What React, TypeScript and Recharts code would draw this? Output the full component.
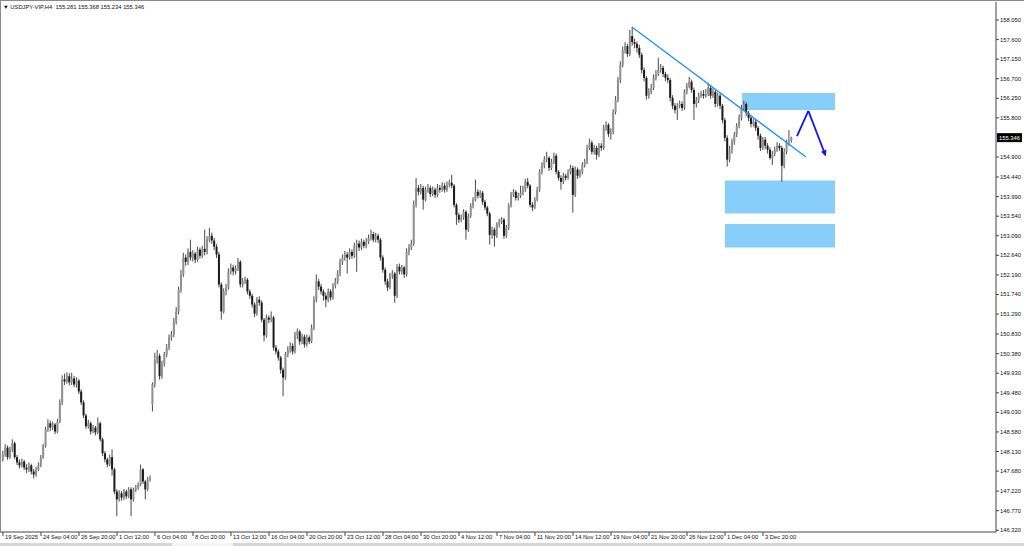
import React from 'react';
import { ComposedChart, Bar, XAxis, YAxis, ReferenceLine, ReferenceArea } from 'recharts';

// USDJPY-VIP, H4 — one value per candle, oldest first (bar 0 = 19 Sep 12:00)
const closes = [
  148.06, 148.22, 148.00, 148.18, 148.32, 148.00, 147.88, 147.81, 147.90, 147.76,
  147.72, 147.81, 147.67, 147.60, 147.72, 147.81, 148.00, 148.27, 148.64, 148.78,
  148.68, 148.75, 148.59, 148.82, 149.26, 149.79, 149.74, 149.86, 149.72, 149.81,
  149.67, 149.76, 149.51, 149.26, 148.96, 148.71, 148.78, 148.59, 148.68, 148.57,
  148.78, 148.41, 148.09, 147.95, 147.83, 148.00, 147.72, 147.21, 147.03, 147.17,
  147.07, 147.21, 147.10, 147.26, 147.03, 147.26, 147.30, 147.37, 147.72, 147.44,
  147.26, 147.49, 147.51,
  149.67, 150.24, 150.33, 149.86, 150.15, 150.36, 150.52, 150.75, 150.82, 151.12,
  151.35, 151.85, 152.20, 152.59, 152.49, 152.72, 152.59, 152.68, 152.54, 152.77,
  152.63, 152.79, 152.72, 153.00, 153.09, 152.98, 152.84, 152.66, 151.97, 151.35,
  151.81, 151.90, 152.27, 152.36, 152.27, 152.34, 152.49, 151.97, 152.04, 152.08,
  151.81, 151.71, 151.51, 151.30, 151.62, 151.55, 151.16, 150.80, 151.21, 151.16,
  151.21, 150.52, 150.43, 150.29, 150.01, 149.83, 150.36, 150.47, 150.56, 150.43,
  150.80, 150.89, 150.66, 150.77, 150.59, 150.75, 150.66, 150.98, 151.62, 152.04,
  151.92,
  151.81, 151.71, 151.62, 151.81, 151.67, 151.94, 152.04, 152.22, 152.49, 152.59,
  152.66, 152.59, 152.72, 152.63, 152.86, 152.91, 152.82, 152.95, 152.86, 152.95,
  153.04, 153.13, 153.00, 153.09, 153.00, 152.59, 152.31, 152.04, 151.90, 152.18,
  152.22, 151.71, 152.38, 152.27, 152.36, 152.20, 152.72, 152.82, 152.91, 153.80,
  154.19, 154.10, 154.19, 153.92, 154.15, 154.19, 154.05, 154.15, 154.03, 154.19,
  154.15, 154.24, 154.15, 154.26, 154.31, 154.24, 153.80, 153.57, 153.46,
  153.51, 153.64, 153.23, 153.55, 153.78, 153.92, 154.10, 154.01, 154.08, 153.87,
  153.74, 153.60, 153.11, 153.23, 153.09, 153.34, 153.41, 153.46, 153.09, 153.27,
  153.78, 154.03, 154.10, 153.96, 154.01, 154.08, 154.15, 154.33, 154.24, 153.80,
  153.74, 153.92, 154.15, 154.56, 154.70, 154.84, 154.88, 154.65, 154.79, 154.93,
  154.56, 154.42, 154.33, 154.47, 154.42, 154.56, 154.65, 154.03, 154.61, 154.47,
  154.56, 154.72, 154.79, 155.11, 155.23, 155.02, 155.11, 154.95, 155.16, 155.11,
  155.57, 155.64, 155.43, 155.48, 155.94, 156.21, 156.67, 157.02,
  157.36, 157.45, 157.27, 157.68, 157.54, 157.50, 157.41, 157.25, 156.90, 156.72,
  156.31, 156.40, 156.49, 156.72, 156.81, 156.90, 156.95, 156.81, 156.72, 156.67,
  156.26, 156.08, 155.98, 156.08, 156.12, 156.03, 156.40, 156.53, 156.63, 156.44,
  156.12, 156.21, 156.31, 156.35, 156.31, 156.35, 156.49, 156.31, 156.40, 156.12,
  156.31, 156.08, 155.75, 155.34, 154.84, 155.07, 155.25, 155.41, 155.61, 155.80,
  156.03, 156.12, 155.91, 155.80, 155.66, 155.71, 155.57, 155.39, 155.11, 155.30,
  155.16, 155.07, 154.88, 154.97, 155.07, 155.16, 155.11, 154.70, 155.02, 155.23,
  155.28, 155.346,
];

const highs = [
  148.15, 148.30, 148.27, 148.24, 148.41, 148.36, 148.05, 147.95, 147.97, 147.94,
  147.84, 147.88, 147.85, 147.73, 147.78, 147.88, 148.05, 148.31, 148.70, 148.87,
  148.84, 148.82, 148.79, 148.88, 149.33, 149.88, 149.92, 149.95, 149.93, 149.94,
  149.87, 149.84, 149.80, 149.56, 149.31, 149.00, 148.86, 148.82, 148.74, 148.72,
  148.91, 148.82, 148.45, 148.14, 147.99, 148.06, 148.18, 147.76, 147.26, 147.24,
  147.22, 147.27, 147.25, 147.31, 147.31, 147.30, 147.36, 147.42, 147.83, 147.75,
  147.48, 147.55, 147.58,
  149.72, 150.40, 150.47, 150.38, 150.22, 150.42, 150.60, 150.82, 150.90, 151.20,
  151.45, 151.92, 152.31, 152.70, 152.66, 152.80, 153.00, 152.76, 152.72, 152.84,
  152.82, 152.86, 153.23, 153.08, 153.27, 153.16, 153.04, 152.90, 152.72, 152.02,
  151.88, 151.98, 152.34, 152.45, 152.42, 152.41, 152.58, 152.53, 152.12, 152.15,
  152.12, 151.86, 151.76, 151.56, 151.68, 151.70, 151.60, 151.20, 151.28, 151.26,
  151.35, 151.25, 150.58, 150.48, 150.33, 150.06, 150.42, 150.55, 150.64, 150.62,
  150.88, 150.96, 150.93, 150.84, 150.82, 150.82, 150.80, 151.05, 151.70, 152.20,
  152.10,
  151.98, 151.86, 151.78, 151.88, 151.86, 152.00, 152.12, 152.30, 152.56, 152.66,
  152.74, 152.72, 152.80, 152.78, 152.93, 153.00, 152.98, 153.02, 153.00, 153.04,
  153.12, 153.23, 153.18, 153.16, 153.14, 153.04, 152.64, 152.36, 152.10, 152.24,
  152.30, 152.26, 152.44, 152.45, 152.42, 152.40, 152.80, 152.90, 153.00, 153.90,
  154.42, 154.26, 154.28, 154.24, 154.22, 154.28, 154.24, 154.22, 154.20, 154.28,
  154.26, 154.32, 154.30, 154.34, 154.38, 154.49, 154.28, 153.84, 153.62,
  153.58, 153.70, 153.68, 153.60, 153.84, 153.98, 154.38, 154.16, 154.14, 154.12,
  153.92, 153.78, 153.64, 153.30, 153.28, 153.40, 153.48, 153.52, 153.50, 153.34,
  153.84, 154.10, 154.16, 154.14, 154.08, 154.24, 154.24, 154.40, 154.42, 154.28,
  153.86, 153.98, 154.22, 154.62, 154.78, 154.92, 155.02, 154.92, 154.86, 155.00,
  154.98, 154.60, 154.48, 154.54, 154.52, 154.62, 154.72, 154.70, 154.68, 154.66,
  154.62, 154.78, 154.86, 155.18, 155.32, 155.28, 155.18, 155.16, 155.22, 155.22,
  155.64, 155.72, 155.68, 155.56, 156.00, 156.30, 156.74, 157.10,
  157.44, 157.54, 157.50, 157.82, 157.89, 157.62, 157.56, 157.48, 157.30, 156.96,
  156.76, 156.48, 156.58, 156.80, 156.90, 157.18, 157.04, 157.00, 156.86, 156.80,
  156.72, 156.32, 156.14, 156.14, 156.20, 156.18, 156.46, 156.60, 156.74, 156.68,
  156.50, 156.28, 156.38, 156.42, 156.44, 156.46, 156.60, 156.54, 156.48, 156.44,
  156.38, 156.36, 156.12, 155.80, 155.40, 155.16, 155.32, 155.48, 155.68, 155.88,
  156.10, 156.19, 156.16, 155.96, 155.84, 155.78, 155.76, 155.62, 155.44, 155.36,
  155.36, 155.22, 155.12, 155.04, 155.14, 155.24, 155.22, 155.16, 155.10, 155.30,
  155.52, 155.368,
];

const lows = [
  147.90, 148.01, 147.94, 147.96, 148.12, 147.95, 147.82, 147.74, 147.76, 147.70,
  147.63, 147.66, 147.60, 147.51, 147.55, 147.68, 147.77, 147.96, 148.22, 148.58,
  148.60, 148.62, 148.53, 148.55, 148.78, 149.20, 149.66, 149.69, 149.65, 149.66,
  149.61, 149.60, 149.45, 149.20, 148.90, 148.65, 148.66, 148.52, 148.55, 148.50,
  148.53, 148.36, 148.03, 147.88, 147.77, 147.79, 147.58, 147.15, 146.64, 146.98,
  147.00, 147.02, 147.04, 147.06, 146.64, 146.98, 147.20, 147.25, 147.33, 147.38,
  147.03, 147.22, 147.44,
  149.05, 149.60, 150.15, 149.78, 149.80, 150.08, 150.30, 150.46, 150.68, 150.76,
  151.05, 151.28, 151.78, 152.14, 152.40, 152.42, 152.52, 152.50, 152.46, 152.49,
  152.56, 152.58, 152.64, 152.66, 152.94, 152.90, 152.76, 152.58, 151.90, 151.16,
  151.30, 151.72, 151.85, 152.20, 152.18, 152.20, 152.28, 151.90, 151.90, 151.98,
  151.74, 151.64, 151.44, 151.22, 151.25, 151.48, 151.10, 150.66, 150.75, 151.08,
  151.10, 150.45, 150.36, 150.22, 149.92, 149.40, 149.78, 150.30, 150.40, 150.36,
  150.38, 150.72, 150.58, 150.60, 150.52, 150.54, 150.60, 150.62, 150.92, 151.56,
  151.84,
  151.74, 151.60, 151.45, 151.56, 151.60, 151.62, 151.88, 151.98, 152.16, 152.42,
  152.52, 152.22, 152.54, 152.56, 152.58, 152.26, 152.74, 152.76, 152.80, 152.80,
  152.90, 152.98, 152.94, 152.94, 152.92, 152.52, 152.24, 151.96, 151.82, 151.86,
  152.10, 151.55, 151.66, 152.20, 152.20, 152.12, 152.15, 152.64, 152.76, 152.86,
  153.74, 154.02, 154.04, 153.69, 153.88, 154.08, 153.98, 154.00, 153.96, 153.98,
  154.08, 154.10, 154.08, 154.10, 154.20, 154.18, 153.74, 153.34, 153.38,
  153.40, 153.46, 153.00, 153.18, 153.50, 153.72, 153.88, 153.95, 153.96, 153.80,
  153.68, 153.54, 152.89, 153.02, 152.84, 153.04, 153.28, 153.36, 153.02, 153.04,
  153.22, 153.74, 153.98, 153.90, 153.90, 153.96, 154.02, 154.10, 154.18, 153.74,
  153.66, 153.70, 153.88, 154.10, 154.50, 154.64, 154.78, 154.58, 154.60, 154.74,
  154.50, 154.36, 154.15, 154.28, 154.36, 154.38, 154.50, 153.62, 153.98, 154.40,
  154.42, 154.50, 154.66, 154.74, 155.06, 154.96, 154.96, 154.84, 154.90, 155.04,
  155.06, 155.50, 155.36, 155.30, 155.42, 155.88, 156.16, 156.60,
  156.96, 157.28, 157.20, 157.22, 157.46, 157.40, 157.30, 157.18, 156.82, 156.64,
  156.22, 156.24, 156.34, 156.44, 156.66, 156.76, 156.84, 156.74, 156.64, 156.60,
  156.18, 156.00, 155.90, 155.75, 156.02, 155.96, 155.98, 156.34, 156.48, 156.38,
  155.75, 156.04, 156.14, 156.26, 156.24, 156.26, 156.30, 156.24, 156.26, 156.04,
  156.06, 156.00, 155.68, 155.26, 154.68, 154.78, 154.98, 155.18, 155.36, 155.56,
  155.74, 155.96, 155.84, 155.72, 155.58, 155.60, 155.50, 155.30, 155.04, 155.06,
  155.08, 154.98, 154.84, 154.72, 154.92, 155.02, 155.04, 154.33, 154.64, 154.96,
  155.16, 155.234,
];

// opens follow the previous close, except where the market gapped
const gapOpens: Record<number, number> = { 0: 147.95, 63: 149.21, 332: 155.281 };

const timeLabels = [
  '19 Sep 2025', '24 Sep 04:00', '26 Sep 20:00', '1 Oct 12:00', '6 Oct 04:00',
  '8 Oct 20:00', '13 Oct 12:00', '16 Oct 04:00', '20 Oct 20:00', '23 Oct 12:00',
  '28 Oct 04:00', '30 Oct 20:00', '4 Nov 12:00', '7 Nov 04:00', '11 Nov 20:00',
  '14 Nov 12:00', '19 Nov 04:00', '21 Nov 20:00', '26 Nov 12:00', '1 Dec 04:00',
  '3 Dec 20:00',
];
const timeTickBars = timeLabels.map((_, k) => k * 16);

const priceTicks = [
  158.05, 157.6, 157.15, 156.7, 156.25, 155.8, 154.9, 154.44, 153.99, 153.54,
  153.09, 152.64, 152.19, 151.74, 151.29, 150.83, 150.38, 149.93, 149.48, 149.03,
  148.58, 148.13, 147.68, 147.22, 146.77, 146.32,
];

const lastPrice = 155.346;
const header = 'USDJPY-VIP,H4  155.281 155.368 155.234 155.346';

// analyst drawings (bar index, price)
const trendLine = [{ x: 264.8, y: 157.89 }, { x: 338.1, y: 154.9 }];
const zones = [
  { x1: 311.2, x2: 350.3, y1: 155.98, y2: 156.37 },
  { x1: 304.0, x2: 350.3, y1: 153.6, y2: 154.36 },
  { x1: 304.0, x2: 350.3, y1: 152.82, y2: 153.36 },
];
const arrowPath = [
  { x: 334.3, y: 155.38 },
  { x: 339.1, y: 155.96 },
  { x: 346.5, y: 154.91 },
];

const candles = closes.map((c, i) => ({
  i,
  o: gapOpens[i] ?? closes[i - 1],
  c,
  h: highs[i],
  l: lows[i],
  range: [lows[i], highs[i]],
}));

const FONT = "'Liberation Sans', Arial, sans-serif";

const Candle = (props: any) => {
  const { x, y, width, height, payload } = props;
  if (!payload || !height) return null;
  const { o, c, h, l } = payload;
  const k = height / (h - l);
  const mid = x + width / 2;
  const top = y + (h - Math.max(o, c)) * k;
  const bot = y + (h - Math.min(o, c)) * k;
  const up = c >= o;
  return (
    <g>
      <line x1={mid} x2={mid} y1={y} y2={y + height} stroke="#4a4a4a" strokeWidth={1} />
      <rect x={x} y={top} width={width} height={Math.max(bot - top, 1)} fill={up ? '#909090' : '#1a1a1a'} />
    </g>
  );
};

const PriceTick = ({ x, y, payload }: any) => (
  <text x={x} y={y + 2} fontSize={5.8} fill="#111" fontFamily={FONT} textAnchor="start">
    {Number(payload.value).toFixed(3)}
  </text>
);

const TimeTick = ({ x, y, payload }: any) => {
  const label = timeLabels[timeTickBars.indexOf(payload.value)];
  if (!label) return null;
  return (
    <text x={x + 2} y={y + 3} fontSize={5.8} fill="#111" fontFamily={FONT} textAnchor="start">
      {label}
    </text>
  );
};

const PriceMarker = (props: any) => {
  const vb = props.viewBox || {};
  const left = vb.x + vb.width + 1;
  return (
    <g>
      <rect x={left} y={vb.y - 4.5} width={25} height={9} fill="#000" />
      <text x={left + 2} y={vb.y + 2} fontSize={5.8} fill="#fff" fontFamily={FONT}>
        {lastPrice.toFixed(3)}
      </text>
    </g>
  );
};

const ArrowHead = (props: any) => {
  const { x1, y1, x2, y2, stroke, strokeWidth } = props;
  const a = Math.atan2(y2 - y1, x2 - x1);
  const len = 7;
  const p1 = [x2 - len * Math.cos(a - 0.42), y2 - len * Math.sin(a - 0.42)];
  const p2 = [x2 - len * Math.cos(a + 0.42), y2 - len * Math.sin(a + 0.42)];
  return (
    <g>
      <line x1={x1} y1={y1} x2={x2 - 3 * Math.cos(a)} y2={y2 - 3 * Math.sin(a)} stroke={stroke} strokeWidth={strokeWidth} />
      <polygon points={`${x2},${y2} ${p1[0]},${p1[1]} ${p2[0]},${p2[1]}`} fill={stroke} />
    </g>
  );
};

export default function App() {
  return (
    <div style={{ position: 'relative', width: 1024, height: 546, background: '#fff', overflow: 'hidden' }}>
      <style>{'body{margin:0}'}</style>
      <div style={{ position: 'absolute', left: 0, top: 0, width: 1024, height: 1, background: '#8a8a8a' }} />
      <div style={{ position: 'absolute', left: 0, top: 0, width: 1, height: 533, background: '#8a8a8a' }} />
      <div style={{ position: 'absolute', left: 3, top: 3, fontSize: 5.8, fontFamily: FONT, color: '#111', whiteSpace: 'pre', lineHeight: '8px' }}>
        {'\u25BC ' + header}
      </div>
      <div style={{ position: 'absolute', left: 0, top: 543, width: 1024, height: 3, background: '#d6d6d6' }} />
      <div style={{ position: 'absolute', left: 172, top: 543, width: 61, height: 3, background: '#f6f6f6' }} />

      <ComposedChart
        width={1024}
        height={546}
        data={candles}
        margin={{ top: 2, right: 0, bottom: 0, left: 1 }}
        style={{ position: 'absolute', left: 0, top: 0 }}
      >
        <XAxis
          type="number"
          dataKey="i"
          domain={[-0.84, 418.1]}
          allowDataOverflow
          ticks={timeTickBars}
          interval={0}
          height={14}
          tickSize={4}
          tickMargin={0}
          tick={<TimeTick />}
          axisLine={{ stroke: '#444' }}
          tickLine={{ stroke: '#444' }}
        />
        <YAxis
          orientation="right"
          type="number"
          domain={[146.28, 158.464]}
          allowDataOverflow
          ticks={priceTicks}
          interval={0}
          width={28}
          tickSize={3}
          tickMargin={1}
          tick={<PriceTick />}
          axisLine={{ stroke: '#444' }}
          tickLine={{ stroke: '#444' }}
        />
        {zones.map((z, k) => (
          <ReferenceArea key={k} x1={z.x1} x2={z.x2} y1={z.y1} y2={z.y2} fill="#87cefa" fillOpacity={1} stroke="none" />
        ))}
        <Bar dataKey="range" barSize={2} shape={<Candle />} isAnimationActive={false} />
        <ReferenceLine segment={trendLine} stroke="#1e90ff" strokeWidth={1.3} />
        <ReferenceLine segment={[arrowPath[0], arrowPath[1]]} stroke="#1414e6" strokeWidth={1.8} />
        <ReferenceLine segment={[arrowPath[1], arrowPath[2]]} stroke="#1414e6" strokeWidth={1.8} shape={<ArrowHead />} />
        <ReferenceLine y={lastPrice} stroke="none" label={<PriceMarker />} />
      </ComposedChart>
    </div>
  );
}
